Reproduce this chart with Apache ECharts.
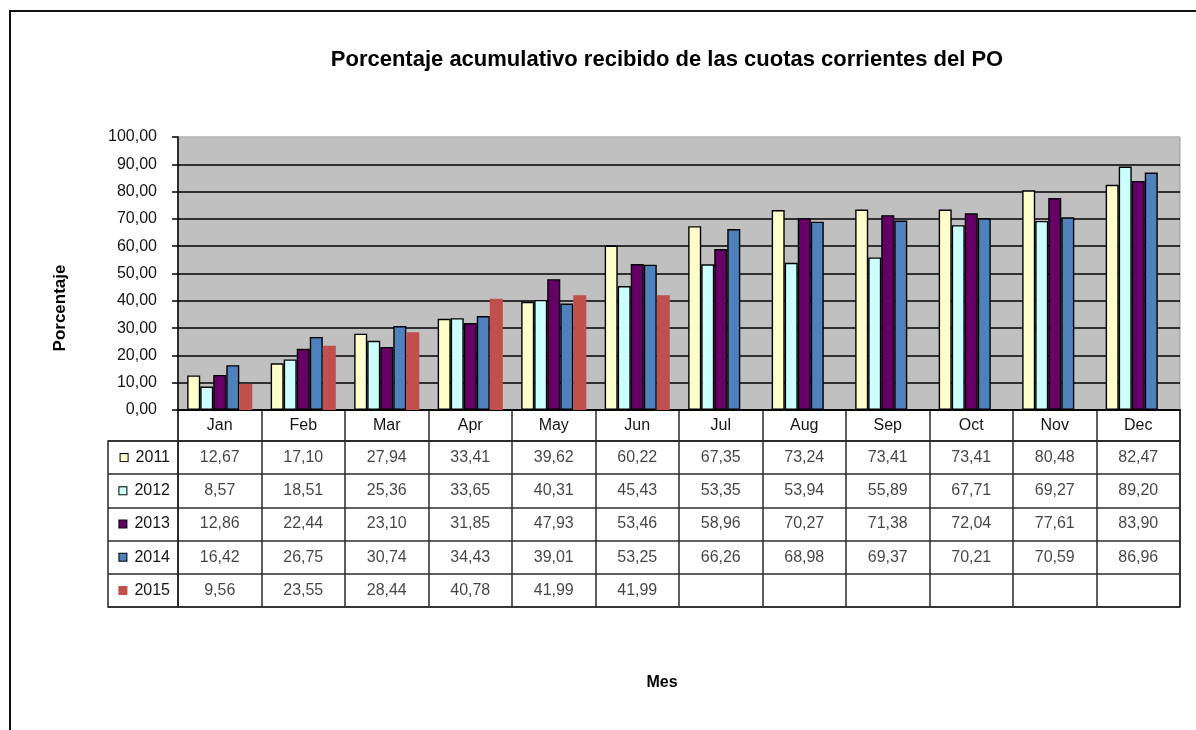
<!DOCTYPE html>
<html>
<head>
<meta charset="utf-8">
<script src="https://cdn.jsdelivr.net/npm/echarts@6/dist/echarts.min.js"></script>
<style>
html,body{margin:0;padding:0;background:#fff;}
#c{width:1196px;height:730px;}
</style>
</head>
<body>
<div id="c"></div>
<script>
const months = ['Jan','Feb','Mar','Apr','May','Jun','Jul','Aug','Sep','Oct','Nov','Dec'];
const years = ['2011','2012','2013','2014','2015'];
const s2011 = [12.67,17.10,27.94,33.41,39.62,60.22,67.35,73.24,73.41,73.41,80.48,82.47];
const s2012 = [8.57,18.51,25.36,33.65,40.31,45.43,53.35,53.94,55.89,67.71,69.27,89.20];
const s2013 = [12.86,22.44,23.10,31.85,47.93,53.46,58.96,70.27,71.38,72.04,77.61,83.90];
const s2014 = [16.42,26.75,30.74,34.43,39.01,53.25,66.26,68.98,69.37,70.21,70.59,86.96];
const s2015 = [9.56,23.55,28.44,40.78,41.99,41.99,null,null,null,null,null,null];
const yTicks = [0,10,20,30,40,50,60,70,80,90,100];
const colors = ['#FFFFCC','#CCFFFF','#660066','#4F81BD','#C0504D'];
const seriesData = [s2011,s2012,s2013,s2014,s2015];

const fmt = v => v.toFixed(2).replace('.', ',');
const FONT = 'Liberation Sans, Arial, sans-serif';
const NARROW = 'Liberation Sans Narrow, Arial Narrow, Liberation Sans, sans-serif';
const LINE = '#2a2a2a';
const TXT = '#151515';

const barSeries = seriesData.map((d, i) => ({
  name: years[i], type: 'bar', xAxisIndex: 0, yAxisIndex: 0,
  data: d, barGap: '0%', barCategoryGap: '22%',
  itemStyle: { color: colors[i], borderColor: i < 4 ? '#000' : 'transparent', borderWidth: i < 4 ? 1.4 : 0 },
  emphasis: { disabled: true }, silent: true
}));

const cellData = [];
seriesData.forEach((d, r) => d.forEach((v, m) => { if (v != null) cellData.push([m, r, v]); }));

const rich = {};
years.forEach((y, i) => {
  rich['k' + i] = { width: 7, height: 7, backgroundColor: colors[i], borderColor: i < 4 ? '#000' : colors[i], borderWidth: 1 };
});
rich.t = { fontSize: 16, fontFamily: FONT, color: TXT, padding: [0, 0, 0, 8] };

const chart = echarts.init(document.getElementById('c'));
chart.setOption({
  animation: false,
  backgroundColor: '#fff',
  title: [{
    text: 'Porcentaje acumulativo recibido de las cuotas corrientes del PO',
    left: 662, top: 44, textAlign: 'center',
    textStyle: { fontFamily: NARROW, fontWeight: 'bold', fontSize: 22, color: '#000' }
  }, {
    text: 'Mes', left: 657, top: 670, textAlign: 'center',
    textStyle: { fontFamily: NARROW, fontWeight: 'bold', fontSize: 16, color: '#000' }
  }],
  graphic: [
    { type: 'line', shape: { x1: 10, y1: 11, x2: 1196, y2: 11 }, style: { stroke: '#111', lineWidth: 2 } },
    { type: 'line', shape: { x1: 10, y1: 10, x2: 10, y2: 730 }, style: { stroke: '#111', lineWidth: 2 } },
    { type: 'text', x: 60, y: 308, rotation: Math.PI / 2,
      style: { text: 'Porcentaje', fontFamily: NARROW, fontWeight: 'bold', fontSize: 17, fill: '#000', align: 'center', verticalAlign: 'middle' } }
  ],
  grid: [
    { left: 178, top: 137, width: 1002, height: 273, show: true, backgroundColor: '#C0C0C0', borderColor: '#999', borderWidth: 1, containLabel: false },
    { left: 178, top: 410, width: 1002, height: 31, show: true, borderColor: LINE, borderWidth: 1.5 },
    { left: 178, top: 441, width: 1002, height: 166, show: true, borderColor: LINE, borderWidth: 1.5 },
    { left: 108, top: 441, width: 70, height: 166, show: true, borderColor: LINE, borderWidth: 1.5 }
  ],
  xAxis: [
    { gridIndex: 0, type: 'category', data: months,
      axisLine: { show: true, lineStyle: { color: '#000', width: 1.5 } }, axisTick: { show: false },
      axisLabel: { fontSize: 16, fontFamily: FONT, color: TXT, margin: 8 }, splitLine: { show: false } },
    { gridIndex: 1, type: 'category', data: months, axisLine: { show: false }, axisTick: { show: false }, axisLabel: { show: false },
      splitLine: { show: true, lineStyle: { color: LINE, width: 1.5 } } },
    { gridIndex: 2, type: 'category', data: months, axisLine: { show: false }, axisTick: { show: false }, axisLabel: { show: false },
      splitLine: { show: true, lineStyle: { color: LINE, width: 1.5 } } },
    { gridIndex: 3, type: 'category', data: [''], axisLine: { show: false }, axisTick: { show: false }, axisLabel: { show: false }, splitLine: { show: false } }
  ],
  yAxis: [
    { gridIndex: 0, type: 'value', min: 0, max: 100, interval: 10,
      axisLine: { show: true, lineStyle: { color: '#000', width: 1.5 } },
      axisTick: { show: true, length: 6, lineStyle: { color: '#000', width: 1.5 } },
      axisLabel: { fontSize: 16, fontFamily: FONT, color: TXT, margin: 21, formatter: v => fmt(v) },
      splitLine: { show: true, lineStyle: { color: ['#000','#000','#000','#000','#000','#000','#000','#000','#000','#000','#C0C0C0'], width: 1.5 } } },
    { gridIndex: 1, type: 'category', data: [''], axisLine: { show: false }, axisTick: { show: false }, axisLabel: { show: false }, splitLine: { show: false } },
    { gridIndex: 2, type: 'category', data: years, inverse: true, axisLine: { show: false }, axisTick: { show: false },
      axisLabel: { margin: 8, align: 'right', formatter: (v, i) => '{k' + i + '|}{t|' + v + '}', rich: rich },
      splitLine: { show: true, lineStyle: { color: LINE, width: 1.5 } } },
    { gridIndex: 3, type: 'category', data: years, inverse: true, axisLine: { show: false }, axisTick: { show: false }, axisLabel: { show: false },
      splitLine: { show: true, lineStyle: { color: LINE, width: 1.5 } } }
  ],
  series: barSeries.concat([{
    type: 'scatter', xAxisIndex: 2, yAxisIndex: 2, data: cellData, symbolSize: 1,
    itemStyle: { color: 'transparent' }, silent: true,
    label: { show: true, position: 'inside', fontSize: 16, fontFamily: FONT, color: TXT, formatter: p => fmt(p.value[2]) }
  }])
});
</script>
</body>
</html>
